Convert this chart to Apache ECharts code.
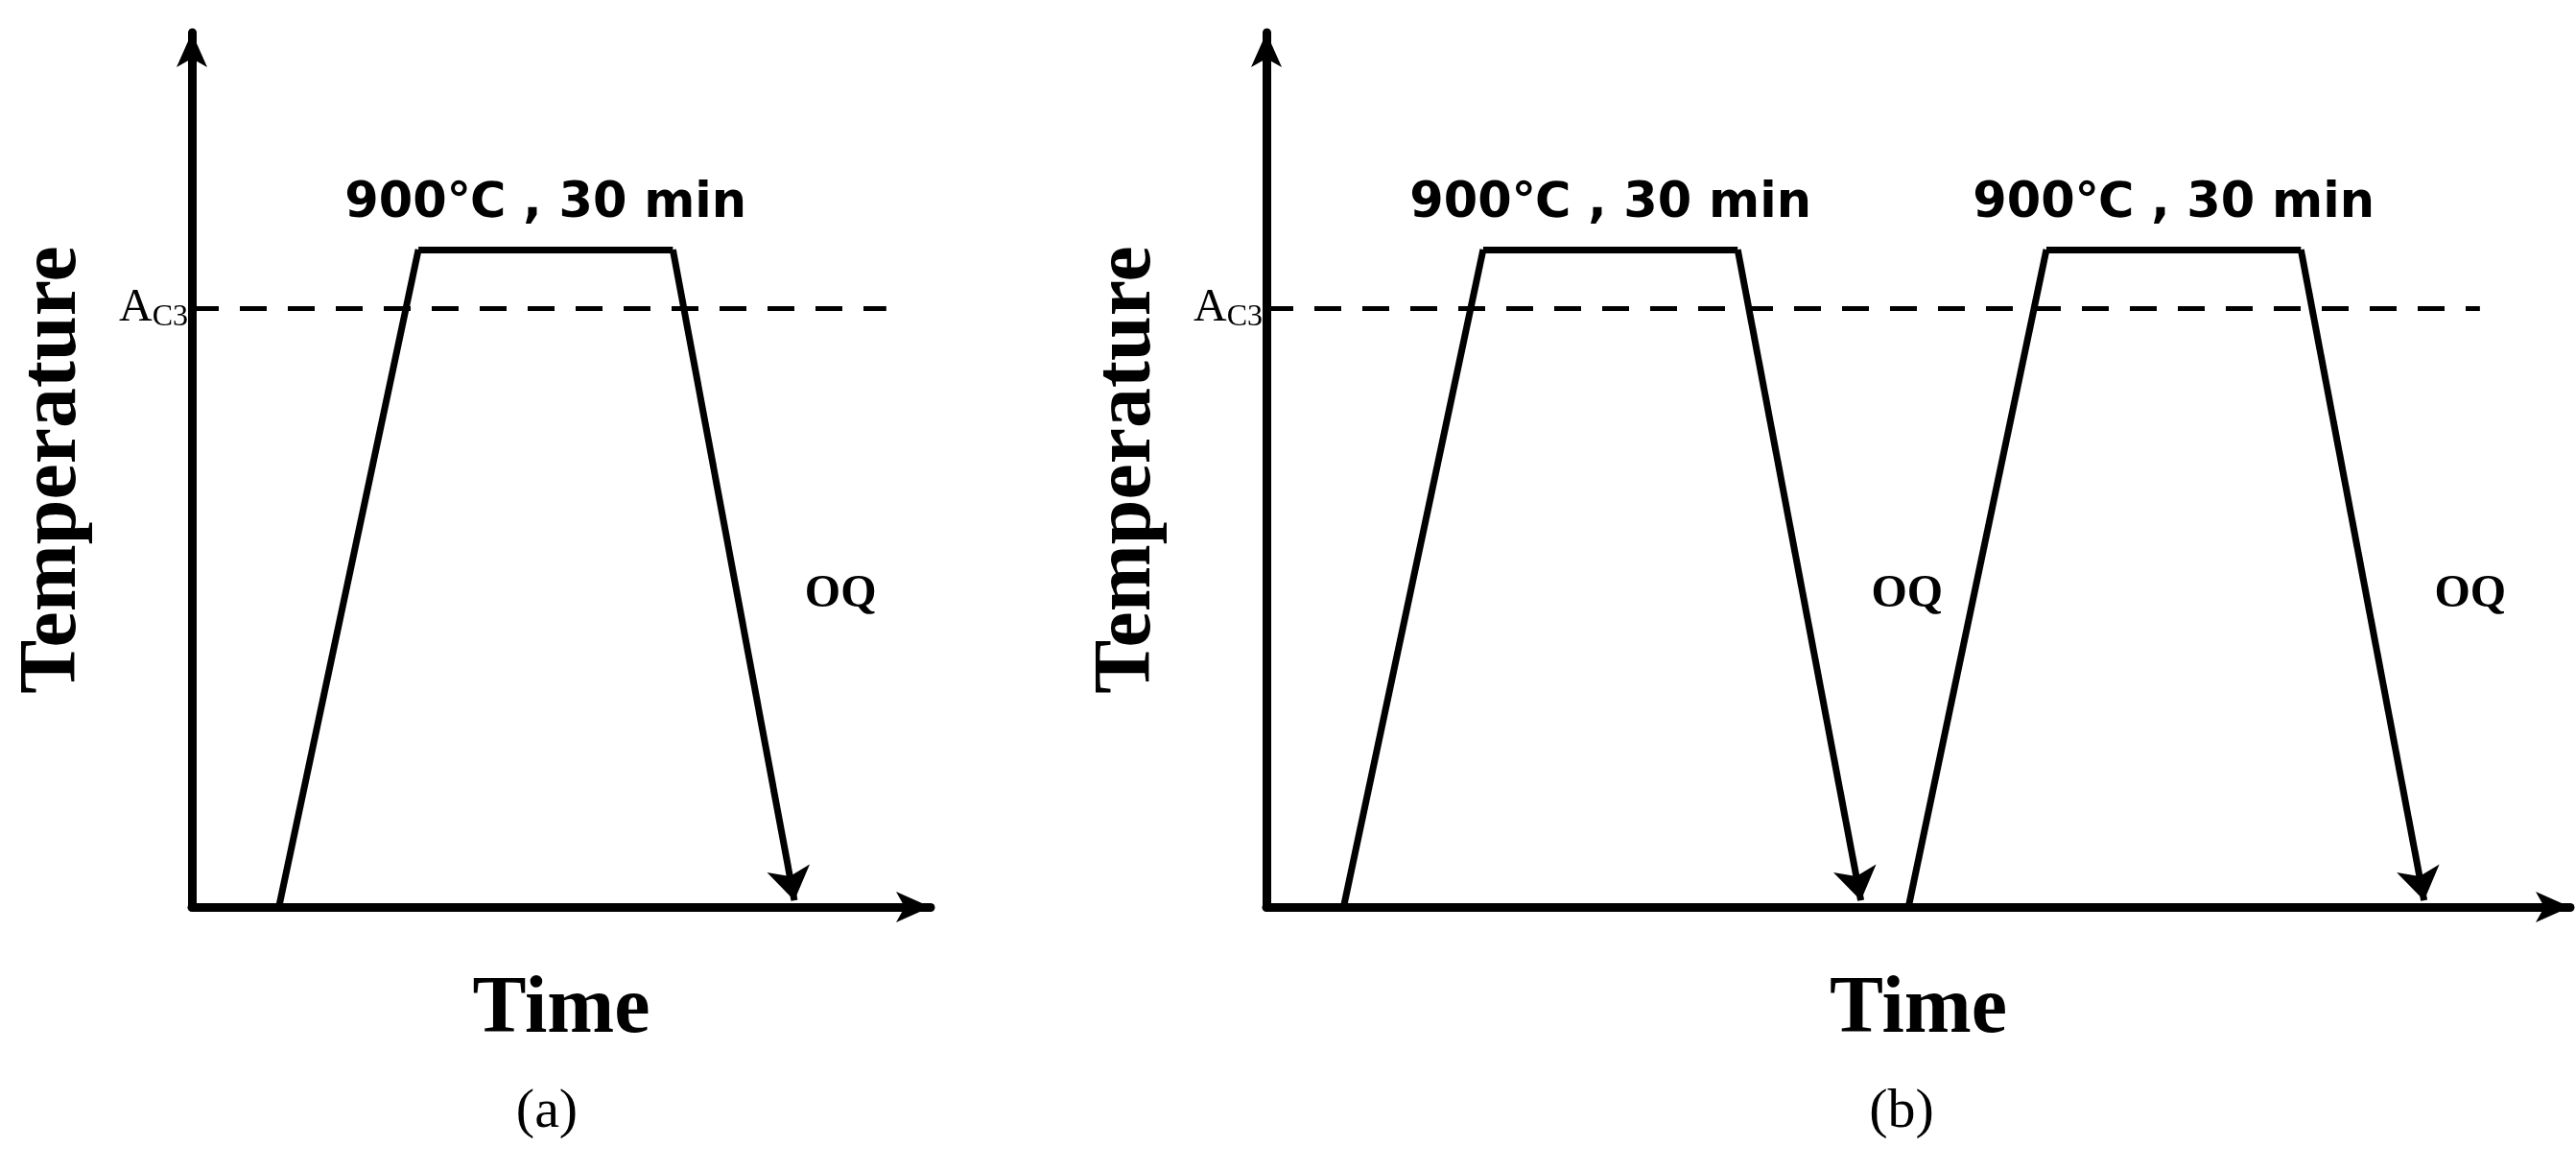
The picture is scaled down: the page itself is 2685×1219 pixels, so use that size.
<!DOCTYPE html>
<html>
<head>
<meta charset="utf-8">
<script src="https://cdn.jsdelivr.net/npm/echarts@6/dist/echarts.min.js"></script>
<style>html,body{margin:0;background:#fff}#main{width:2685px;height:1219px}</style>
</head>
<body>
<div id="main"></div>
<script>
// time / temperature in arbitrary units (axis origin = 0)
var cycleA = [[53, 0], [138, 400], [293, 400], [367, 4]];
var cycleB1 = [[47, 0], [132, 400], [287, 400], [362, 4]];
var cycleB2 = [[391, 0], [475, 400], [630, 400], [705, 4]];
var ac3 = 364;
var dashEndA = 423, dashEndB = 739;
var xMaxA = 450, xMaxB = 794, yMax = 532;
var holdLabel = '900℃ , 30 min';

var chart = echarts.init(document.getElementById('main'));

function segs(pts, gi) {
  var out = [];
  for (var i = 0; i < pts.length - 1; i++) {
    out.push({ coords: [pts[i], pts[i + 1]], last: i === pts.length - 2 });
  }
  return [
    { type: 'lines', coordinateSystem: 'cartesian2d', xAxisIndex: gi, yAxisIndex: gi,
      lineStyle: { color: '#000', width: 7, opacity: 1 }, symbol: 'none',
      data: out.filter(function (s) { return !s.last; }) },
    { type: 'lines', coordinateSystem: 'cartesian2d', xAxisIndex: gi, yAxisIndex: gi,
      lineStyle: { color: '#000', width: 7, opacity: 1 }, symbol: ['none', 'arrow'], symbolSize: [22, 34],
      data: out.filter(function (s) { return s.last; }) }
  ];
}
function dashed(end, gi) {
  return { type: 'lines', coordinateSystem: 'cartesian2d', xAxisIndex: gi, yAxisIndex: gi,
    lineStyle: { color: '#000', width: 5, type: [28, 22], opacity: 1 }, symbol: 'none',
    data: [{ coords: [[0, ac3], [end, ac3]] }] };
}
function labels(pts, gi) {
  return { type: 'scatter', xAxisIndex: gi, yAxisIndex: gi, symbolSize: 0,
    itemStyle: { opacity: 1 },
    label: { color: '#000', textBorderWidth: 0 },
    data: [
      { value: [(pts[1][0] + pts[2][0]) / 2, pts[1][1]],
        label: { show: true, position: 'top', distance: 22, formatter: holdLabel,
          fontFamily: 'DejaVu Sans', fontWeight: 'bold', fontSize: 51, color: '#000' } },
      { value: [pts[3][0] + 4, 190],
        label: { show: true, position: 'right', distance: 4, formatter: 'OQ',
          fontFamily: 'Liberation Serif', fontWeight: 'bold', fontSize: 48, color: '#000' } }
    ] };
}
function ac3Label(gi) {
  return { type: 'scatter', xAxisIndex: gi, yAxisIndex: gi, symbolSize: 0,
    itemStyle: { opacity: 1 },
    data: [{ value: [0, ac3], label: { show: true, position: 'left', distance: 4,
      formatter: '{a|A}{s|C3}', rich: {
        a: { fontFamily: 'Liberation Serif', fontSize: 48, color: '#000' },
        s: { fontFamily: 'Liberation Serif', fontSize: 32, color: '#000', verticalAlign: 'bottom', padding: [18, 0, 0, 0] } } } }] };
}
function xAx(max, gi) {
  return { type: 'value', gridIndex: gi, min: 0, max: max, splitLine: { show: false },
    axisTick: { show: false }, axisLabel: { show: false },
    axisLine: { lineStyle: { color: '#000', width: 9 }, symbol: ['none', 'arrow'], symbolSize: [24, 36] },
    name: 'Time', nameLocation: 'middle', nameGap: 66,
    nameTextStyle: { fontFamily: 'Liberation Serif', fontWeight: 'bold', fontSize: 84, color: '#000' } };
}
function yAx(gi) {
  return { type: 'value', gridIndex: gi, min: 0, max: yMax, splitLine: { show: false },
    axisTick: { show: false }, axisLabel: { show: false },
    axisLine: { lineStyle: { color: '#000', width: 9 }, symbol: ['none', 'arrow'], symbolSize: [24, 36] },
    name: 'Temperature', nameLocation: 'middle', nameGap: 102, nameRotate: 90,
    nameTextStyle: { fontFamily: 'Liberation Serif', fontWeight: 'bold', fontSize: 84, color: '#000' } };
}

var option = {
  backgroundColor: '#fff',
  animation: false,
  title: [
    { text: '(a)', left: 565, top: 1125, textAlign: 'center',
      textStyle: { fontFamily: 'Liberation Serif', fontWeight: 'normal', fontSize: 58, color: '#000' } },
    { text: '(b)', left: 1977, top: 1125, textAlign: 'center',
      textStyle: { fontFamily: 'Liberation Serif', fontWeight: 'normal', fontSize: 58, color: '#000' } }
  ],
  grid: [
    { left: 200, top: 34, width: 770, height: 911 },
    { left: 1320, top: 34, width: 1359, height: 911 }
  ],
  xAxis: [xAx(xMaxA, 0), xAx(xMaxB, 1)],
  yAxis: [yAx(0), yAx(1)],
  series: [].concat(
    dashed(dashEndA, 0), segs(cycleA, 0), labels(cycleA, 0), ac3Label(0),
    dashed(dashEndB, 1), segs(cycleB1, 1), labels(cycleB1, 1), segs(cycleB2, 1), labels(cycleB2, 1), ac3Label(1)
  )
};
chart.setOption(option);
</script>
</body>
</html>
